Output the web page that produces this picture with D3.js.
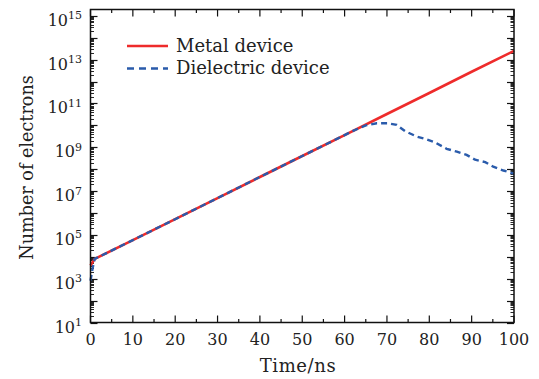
<!DOCTYPE html>
<html>
<head>
    <title>electrons</title>
    <script src="https://cdn.jsdelivr.net/npm/d3@7"></script>
    <style>
        body { margin: 0; background: #fff; }
        text { font-family: "DejaVu Serif", serif; fill: #222; }
    </style>
</head>
<body>
    <script>
        // values
        const metalT = [0, 1, 10, 20, 30, 40, 50, 60, 70, 80, 90, 100];
        const metalN = [4e3, 8e3, 5.8e4, 5.2e5, 4.8e6, 4.4e7, 4e8, 3.6e9, 3.3e10, 3e11, 2.8e12, 2.5e13];

        const dielT = [0, 0.5, 1, 10, 20, 30, 40, 50, 60, 62, 65, 67.6, 70.2, 72.3, 74.3, 77, 79.4, 81.3, 84.1, 86.5, 88.8, 90.8, 93.2, 95.1, 97.5, 100];
        const dielN = [8e2, 3e3, 8e3, 5.8e4, 5.2e5, 4.8e6, 4.4e7, 4e8, 3.6e9, 5.6e9, 1e10, 1.25e10, 1.25e10, 1.05e10, 5.4e9, 3.1e9, 2.3e9, 1.7e9, 8.5e8, 6.3e8, 4.5e8, 2.7e8, 2.1e8, 1.3e8, 8.7e7, 6.2e7];

        const xTicks = [0, 10, 20, 30, 40, 50, 60, 70, 80, 90, 100];
        const yExps = [1, 3, 5, 7, 9, 11, 13, 15];
        const legendNames = ["Metal device", "Dielectric device"];

        const width = 539, height = 379;
        const m = { left: 90.5, right: 25, top: 9.5, bottom: 56.5 };

        const svg = d3.select("body").append("svg")
            .attr("width", width).attr("height", height);

        const x = d3.scaleLinear().domain([0, 100]).range([m.left, width - m.right]);
        const y = d3.scaleLog().domain([10, Math.pow(10, 15.29)]).range([height - m.bottom, m.top]);

        // minor log ticks
        const minorY = [];
        for (let e = 1; e <= 15; e++) {
            for (let k = 1; k <= 9; k++) {
                const v = k * Math.pow(10, e);
                if (v <= y.domain()[1]) minorY.push(v);
            }
        }
        const minorX = d3.range(5, 100, 10);

        const x0 = x.range()[0], x1 = x.range()[1];
        const y0 = y.range()[0], y1 = y.range()[1];

        const ticks = svg.append("g").attr("stroke", "#111");
        // y ticks left/right
        minorY.forEach(v => {
            const major = Math.abs(Math.log10(v) - Math.round(Math.log10(v))) < 1e-9;
            const len = major ? 7 : 3.5;
            const yy = Math.round(y(v)) + 0.5;
            ticks.append("line").attr("x1", x0).attr("x2", x0 + len).attr("y1", yy).attr("y2", yy)
                .attr("stroke-width", major ? 1.2 : 0.9);
            ticks.append("line").attr("x1", x1).attr("x2", x1 - len).attr("y1", yy).attr("y2", yy)
                .attr("stroke-width", major ? 1.2 : 0.9);
        });
        // x ticks bottom/top
        xTicks.concat(minorX).forEach(t => {
            const major = t % 10 === 0;
            const len = major ? 7 : 3.5;
            const xx = x(t);
            ticks.append("line").attr("x1", xx).attr("x2", xx).attr("y1", y0).attr("y2", y0 - len).attr("stroke-width", 1.2);
            ticks.append("line").attr("x1", xx).attr("x2", xx).attr("y1", y1).attr("y2", y1 + len).attr("stroke-width", 1.2);
        });

        // lines
        const line = d3.line().x(d => x(d[0])).y(d => y(d[1]));
        svg.append("path")
            .datum(metalT.map((t, i) => [t, metalN[i]]))
            .attr("d", line)
            .attr("fill", "none")
            .attr("stroke", "#ee2b2b")
            .attr("stroke-width", 2.6);
        svg.append("path")
            .datum(dielT.map((t, i) => [t, dielN[i]]))
            .attr("d", line)
            .attr("fill", "none")
            .attr("stroke", "#2a5bab")
            .attr("stroke-width", 2.4)
            .attr("stroke-dasharray", "6,4");

        // frame
        svg.append("rect")
            .attr("x", x0).attr("y", y1)
            .attr("width", x1 - x0).attr("height", y0 - y1)
            .attr("fill", "none").attr("stroke", "#111").attr("stroke-width", 1.5);

        // tick labels
        svg.append("g").selectAll("text").data(xTicks).join("text")
            .attr("x", d => x(d)).attr("y", y0 + 22.5)
            .attr("text-anchor", "middle")
            .attr("font-size", 16)
            .text(d => d);

        const yl = svg.append("g").selectAll("text").data(yExps).join("text")
            .attr("x", 82).attr("y", d => y(Math.pow(10, d)) + 10)
            .attr("text-anchor", "end")
            .attr("font-size", 16);
        yl.append("tspan").text("10");
        yl.append("tspan").attr("dy", -6.5).attr("font-size", 11).text(d => d);

        // axis titles
        svg.append("text").attr("x", 298).attr("y", 372)
            .attr("text-anchor", "middle").attr("font-size", 18)
            .attr("letter-spacing", 0.6).text("Time/ns");
        svg.append("text")
            .attr("transform", `translate(33,167.5) rotate(-90)`)
            .attr("text-anchor", "middle").attr("font-size", 17.6).text("Number of electrons");

        // legend
        const lg = svg.append("g");
        lg.append("line").attr("x1", 127).attr("x2", 168).attr("y1", 46).attr("y2", 46)
            .attr("stroke", "#ee2b2b").attr("stroke-width", 2.4);
        lg.append("line").attr("x1", 127).attr("x2", 168).attr("y1", 68.5).attr("y2", 68.5)
            .attr("stroke", "#2a5bab").attr("stroke-width", 2.4).attr("stroke-dasharray", "7,5");
        lg.selectAll("text").data(legendNames).join("text")
            .attr("x", 176).attr("y", (d, i) => 51.7 + i * 22.6)
            .attr("font-size", 18).text(d => d);
    </script>
</body>
</html>
